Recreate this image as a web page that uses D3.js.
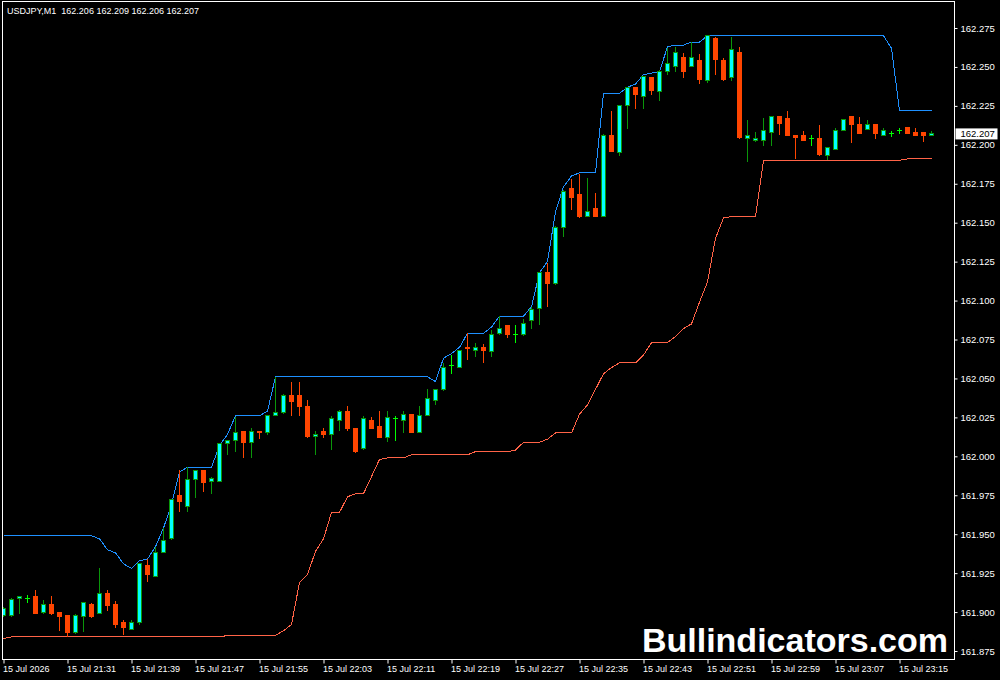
<!DOCTYPE html>
<html>
<head>
<meta charset="utf-8">
<script src="https://cdn.jsdelivr.net/npm/d3@7"></script>
<style>
  body { margin: 0; background: #000; }
  svg { display: block; }
</style>
</head>
<body>
<div id="chart-area"></div>
<script>
const symbolTitle = "USDJPY,M1  162.206 162.209 162.206 162.207";
const lastPrice = 162.207;
const watermark = "Bullindicators.com";

const timeLabels = ["15 Jul 2026", "15 Jul 21:31", "15 Jul 21:39", "15 Jul 21:47", "15 Jul 21:55",
  "15 Jul 22:03", "15 Jul 22:11", "15 Jul 22:19", "15 Jul 22:27", "15 Jul 22:35", "15 Jul 22:43",
  "15 Jul 22:51", "15 Jul 22:59", "15 Jul 23:07", "15 Jul 23:15"];
const barsPerLabel = 8;

const priceTicks = [161.875, 161.900, 161.925, 161.950, 161.975, 162.000, 162.025, 162.050, 162.075,
  162.100, 162.125, 162.150, 162.175, 162.200, 162.225, 162.250, 162.275];

// one-minute bars, 21:23 .. 23:19
const open = [
  161.898, 161.898, 161.909, 161.909, 161.910, 161.900, 161.905, 161.900, 161.898, 161.887,
  161.897, 161.905, 161.899, 161.912, 161.905, 161.893, 161.889, 161.893, 161.930, 161.923,
  161.938, 161.947, 161.975, 161.968, 161.985, 161.991, 161.984, 161.984, 162.008, 162.010,
  162.016, 162.009, 162.016, 162.015, 162.026, 162.028, 162.039, 162.039, 162.032, 162.013,
  162.016, 162.014, 162.023, 162.029, 162.018, 162.005, 162.023, 162.019, 162.012, 162.024,
  162.023, 162.027, 162.015, 162.026, 162.036, 162.043, 162.058, 162.057, 162.070, 162.068,
  162.070, 162.067, 162.079, 162.084, 162.078, 162.078, 162.087, 162.095, 162.118, 162.111,
  162.147, 162.172, 162.168, 162.154, 162.159, 162.154, 162.206, 162.195, 162.225, 162.237,
  162.231, 162.243, 162.234, 162.247, 162.250, 162.256, 162.250, 162.254, 162.241, 162.268,
  162.254, 162.243, 162.259, 162.204, 162.203, 162.203, 162.208, 162.218, 162.217, 162.206,
  162.206, 162.204, 162.204, 162.193, 162.197, 162.209, 162.218, 162.213, 162.210, 162.213,
  162.206, 162.207, 162.209, 162.211, 162.208, 162.208, 162.206];
const high = [
  161.903, 161.909, 161.910, 161.911, 161.914, 161.908, 161.910, 161.900, 161.898, 161.899,
  161.906, 161.906, 161.928, 161.914, 161.907, 161.895, 161.895, 161.931, 161.934, 161.942,
  161.954, 161.972, 161.991, 161.993, 161.991, 161.991, 161.987, 162.008, 162.010, 162.025,
  162.016, 162.018, 162.016, 162.026, 162.051, 162.040, 162.048, 162.048, 162.036, 162.016,
  162.018, 162.026, 162.030, 162.032, 162.018, 162.026, 162.025, 162.029, 162.029, 162.026,
  162.029, 162.027, 162.032, 162.043, 162.043, 162.060, 162.065, 162.068, 162.079, 162.073,
  162.072, 162.081, 162.090, 162.084, 162.084, 162.088, 162.096, 162.118, 162.124, 162.148,
  162.171, 162.178, 162.181, 162.179, 162.169, 162.207, 162.222, 162.225, 162.237, 162.237,
  162.244, 162.243, 162.248, 162.262, 162.263, 162.259, 162.266, 162.258, 162.270, 162.269,
  162.256, 162.269, 162.263, 162.216, 162.208, 162.217, 162.218, 162.218, 162.222, 162.206,
  162.209, 162.206, 162.213, 162.198, 162.211, 162.216, 162.218, 162.218, 162.216, 162.213,
  162.211, 162.209, 162.211, 162.211, 162.211, 162.208, 162.209];
const low = [
  161.897, 161.897, 161.899, 161.906, 161.899, 161.899, 161.898, 161.888, 161.884, 161.886,
  161.887, 161.896, 161.899, 161.901, 161.890, 161.885, 161.889, 161.892, 161.919, 161.923,
  161.938, 161.946, 161.964, 161.964, 161.973, 161.977, 161.976, 161.984, 162.001, 162.003,
  161.999, 161.999, 162.011, 162.014, 162.026, 162.027, 162.026, 162.026, 162.012, 162.001,
  162.012, 162.004, 162.016, 162.016, 162.002, 162.004, 162.018, 162.012, 162.009, 162.010,
  162.015, 162.015, 162.015, 162.026, 162.033, 162.042, 162.053, 162.057, 162.062, 162.064,
  162.060, 162.064, 162.078, 162.076, 162.073, 162.077, 162.082, 162.084, 162.096, 162.110,
  162.141, 162.158, 162.153, 162.154, 162.154, 162.154, 162.196, 162.193, 162.210, 162.223,
  162.223, 162.232, 162.228, 162.245, 162.247, 162.243, 162.250, 162.239, 162.240, 162.245,
  162.241, 162.241, 162.204, 162.189, 162.202, 162.199, 162.199, 162.206, 162.206, 162.191,
  162.203, 162.199, 162.193, 162.190, 162.197, 162.209, 162.201, 162.207, 162.210, 162.204,
  162.206, 162.205, 162.207, 162.207, 162.206, 162.202, 162.206];
const close = [
  161.902, 161.908, 161.910, 161.909, 161.899, 161.905, 161.899, 161.897, 161.887, 161.898,
  161.906, 161.897, 161.912, 161.904, 161.892, 161.890, 161.893, 161.931, 161.924, 161.938,
  161.946, 161.972, 161.971, 161.985, 161.991, 161.983, 161.986, 162.008, 162.010, 162.015,
  162.009, 162.016, 162.015, 162.026, 162.028, 162.039, 162.035, 162.032, 162.013, 162.014,
  162.014, 162.024, 162.029, 162.018, 162.003, 162.024, 162.018, 162.012, 162.025, 162.024,
  162.027, 162.015, 162.026, 162.037, 162.043, 162.057, 162.058, 162.068, 162.069, 162.070,
  162.068, 162.078, 162.082, 162.078, 162.078, 162.085, 162.094, 162.118, 162.111, 162.147,
  162.170, 162.166, 162.154, 162.157, 162.154, 162.206, 162.196, 162.225, 162.237, 162.232,
  162.244, 162.235, 162.247, 162.252, 162.259, 162.247, 162.256, 162.242, 162.270, 162.255,
  162.242, 162.261, 162.205, 162.206, 162.204, 162.209, 162.218, 162.214, 162.206, 162.205,
  162.203, 162.204, 162.194, 162.198, 162.209, 162.216, 162.213, 162.207, 162.213, 162.207,
  162.209, 162.207, 162.209, 162.207, 162.206, 162.206, 162.207];

// channel lines as drawn on the chart
const upperBand = [
  161.949, 161.949, 161.949, 161.949, 161.949, 161.949, 161.949, 161.949, 161.949, 161.949,
  161.949, 161.949, 161.947, 161.940, 161.938, 161.931, 161.928, 161.933, 161.934, 161.942,
  161.954, 161.969, 161.990, 161.993, 161.993, 161.993, 161.993, 162.007, 162.014, 162.026,
  162.026, 162.026, 162.026, 162.029, 162.051, 162.051, 162.051, 162.051, 162.051, 162.051,
  162.051, 162.051, 162.051, 162.051, 162.051, 162.051, 162.051, 162.051, 162.051, 162.051,
  162.051, 162.051, 162.051, 162.051, 162.048, 162.063, 162.066, 162.070, 162.079, 162.079,
  162.079, 162.083, 162.090, 162.090, 162.090, 162.090, 162.096, 162.118, 162.125, 162.157,
  162.173, 162.180, 162.182, 162.182, 162.182, 162.233, 162.233, 162.233, 162.237, 162.239,
  162.245, 162.246, 162.247, 162.263, 162.264, 162.264, 162.266, 162.266, 162.270, 162.270,
  162.270, 162.270, 162.270, 162.270, 162.270, 162.270, 162.270, 162.270, 162.270, 162.270,
  162.270, 162.270, 162.270, 162.270, 162.270, 162.270, 162.270, 162.270, 162.270, 162.270,
  162.270, 162.262, 162.222, 162.222, 162.222, 162.222, 162.222];
const lowerBand = [
  161.883, 161.884, 161.884, 161.884, 161.884, 161.884, 161.884, 161.884, 161.884, 161.884,
  161.884, 161.884, 161.884, 161.884, 161.884, 161.884, 161.884, 161.884, 161.884, 161.884,
  161.884, 161.884, 161.884, 161.884, 161.884, 161.884, 161.884, 161.884, 161.885, 161.885,
  161.885, 161.885, 161.885, 161.885, 161.885, 161.888, 161.892, 161.919, 161.924, 161.939,
  161.947, 161.964, 161.964, 161.974, 161.976, 161.976, 161.987, 161.998, 161.999, 161.999,
  161.999, 162.001, 162.001, 162.001, 162.001, 162.001, 162.001, 162.001, 162.001, 162.003,
  162.003, 162.003, 162.003, 162.003, 162.004, 162.009, 162.009, 162.009, 162.011, 162.015,
  162.015, 162.015, 162.027, 162.033, 162.043, 162.053, 162.057, 162.060, 162.060, 162.060,
  162.065, 162.073, 162.073, 162.073, 162.077, 162.082, 162.085, 162.099, 162.112, 162.140,
  162.153, 162.154, 162.154, 162.154, 162.154, 162.190, 162.190, 162.190, 162.190, 162.190,
  162.190, 162.190, 162.190, 162.190, 162.190, 162.190, 162.190, 162.190, 162.190, 162.190,
  162.190, 162.190, 162.190, 162.191, 162.191, 162.191, 162.191];

const canvasWidth = 1000;
const canvasHeight = 680;
const frame = {left: 2.5, top: 1.5, right: 954.5, bottom: 659.5};
const axisFont = "'Liberation Sans', Arial, sans-serif";

const bullColor = "#00ffff";
const bullEdge = "#0a960a";
const bearColor = "#ff4500";
const dojiColor = "#00ff00";

const canvas = d3.select("#chart-area").append("svg")
  .attr("width", canvasWidth)
  .attr("height", canvasHeight)
  .style("background", "#000");

const xScale = d3.scaleLinear().domain([0, open.length - 1]).range([3.5, 3.5 + 8 * (open.length - 1)]);
const yScale = d3.scaleLinear().domain([161.875, 162.275]).range([651, 28]);

canvas.append("clipPath").attr("id", "plot-clip")
  .append("rect")
  .attr("x", frame.left + 0.5).attr("y", frame.top + 0.5)
  .attr("width", frame.right - frame.left - 1).attr("height", frame.bottom - frame.top - 1);

const plotGroup = canvas.append("g").attr("clip-path", "url(#plot-clip)");

// channel lines
const bandLine = d3.line().x((d, i) => xScale(i)).y(d => yScale(d));

plotGroup.append("path")
  .datum(upperBand)
  .attr("d", bandLine)
  .attr("fill", "none")
  .attr("stroke", "#1e90ff")
  .attr("stroke-width", 1)
  .attr("shape-rendering", "crispEdges");

plotGroup.append("path")
  .datum(lowerBand)
  .attr("d", bandLine)
  .attr("fill", "none")
  .attr("stroke", "#ff6347")
  .attr("stroke-width", 1)
  .attr("shape-rendering", "crispEdges");

// candles
const bars = open.map((o, i) => ({i, o, h: high[i], l: low[i], c: close[i]}));
const wickColor = d => d.o === d.c ? dojiColor : (d.c > d.o ? bullEdge : bearColor);

const candles = plotGroup.selectAll("g.candle")
  .data(bars)
  .enter()
  .append("g")
  .attr("class", "candle")
  .attr("shape-rendering", "crispEdges");

candles.append("line")
  .attr("x1", d => xScale(d.i))
  .attr("x2", d => xScale(d.i))
  .attr("y1", d => yScale(d.h))
  .attr("y2", d => yScale(d.l))
  .attr("stroke", wickColor);

candles.filter(d => d.o !== d.c)
  .append("rect")
  .attr("x", d => xScale(d.i) - 2)
  .attr("width", 4)
  .attr("y", d => yScale(Math.max(d.o, d.c)))
  .attr("height", d => Math.max(yScale(Math.min(d.o, d.c)) - yScale(Math.max(d.o, d.c)), 0.5))
  .attr("fill", d => d.c > d.o ? bullColor : bearColor)
  .attr("stroke", d => d.c > d.o ? bullEdge : bearColor);

candles.filter(d => d.o === d.c)
  .append("line")
  .attr("x1", d => xScale(d.i) - 2.5)
  .attr("x2", d => xScale(d.i) + 2.5)
  .attr("y1", d => yScale(d.o))
  .attr("y2", d => yScale(d.o))
  .attr("stroke", dojiColor);

// watermark
canvas.append("text")
  .attr("x", 948)
  .attr("y", 652)
  .attr("text-anchor", "end")
  .attr("font-family", axisFont)
  .attr("font-weight", "bold")
  .attr("font-size", "34px")
  .attr("fill", "#fff")
  .text(watermark);

// frame
canvas.append("rect")
  .attr("x", frame.left).attr("y", frame.top)
  .attr("width", frame.right - frame.left).attr("height", frame.bottom - frame.top)
  .attr("fill", "none")
  .attr("stroke", "#fff")
  .attr("shape-rendering", "crispEdges");

// price axis
const yAxis = d3.axisRight(yScale)
  .tickValues(priceTicks)
  .tickSize(3)
  .tickPadding(3)
  .tickFormat(d3.format(".3f"));

const yAxisGroup = canvas.append("g")
  .attr("transform", `translate(${frame.right}, 0)`)
  .call(yAxis);
yAxisGroup.select(".domain").remove();
yAxisGroup.selectAll("line").attr("stroke", "#fff");
yAxisGroup.selectAll("text")
  .attr("fill", "#fff")
  .attr("font-family", axisFont)
  .attr("font-size", "9.5px");

// current price marker
const priceGroup = canvas.append("g").attr("transform", `translate(${frame.right + 1}, ${yScale(lastPrice)})`);
priceGroup.append("rect")
  .attr("x", 0).attr("y", -5.5)
  .attr("width", 42).attr("height", 11)
  .attr("fill", "#fff");
priceGroup.append("text")
  .attr("x", 5)
  .attr("dy", "0.35em")
  .attr("font-family", axisFont)
  .attr("font-size", "9.5px")
  .attr("fill", "#000")
  .text(d3.format(".3f")(lastPrice));

// time axis
const xAxis = d3.axisBottom(xScale)
  .tickValues(timeLabels.map((t, i) => i * barsPerLabel))
  .tickSize(4)
  .tickPadding(2)
  .tickFormat((d, i) => timeLabels[i]);

const xAxisGroup = canvas.append("g")
  .attr("transform", `translate(0, ${frame.bottom})`)
  .call(xAxis);
xAxisGroup.select(".domain").remove();
xAxisGroup.selectAll("line").attr("stroke", "#fff");
xAxisGroup.selectAll("text")
  .attr("fill", "#fff")
  .attr("text-anchor", "start")
  .attr("x", -1)
  .attr("font-family", axisFont)
  .attr("font-size", "9px");

// symbol header
canvas.append("text")
  .attr("x", 7)
  .attr("y", 14)
  .attr("font-family", axisFont)
  .attr("font-size", "9px")
  .attr("fill", "#fff")
  .style("white-space", "pre")
  .text(symbolTitle);
</script>
</body>
</html>
